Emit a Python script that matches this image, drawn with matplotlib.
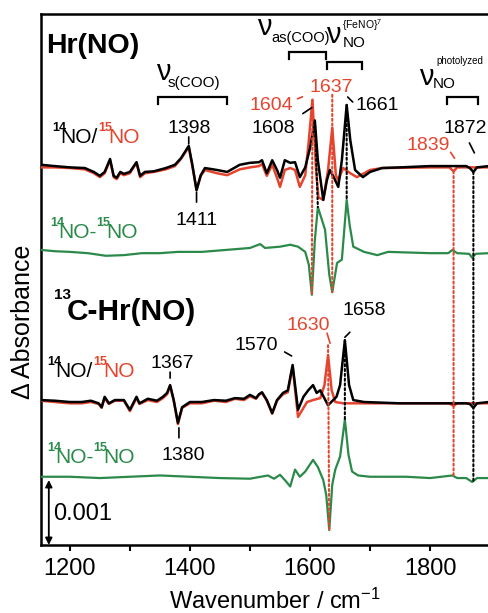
import numpy as np
import matplotlib.pyplot as plt
from matplotlib.transforms import offset_copy

plt.rcParams['font.family'] = ['Liberation Sans', 'DejaVu Sans']
plt.rcParams['mathtext.fontset'] = 'custom'
plt.rcParams['mathtext.rm'] = 'Liberation Sans'
plt.rcParams['mathtext.it'] = 'Liberation Sans:italic'
plt.rcParams['mathtext.bf'] = 'Liberation Sans:bold'

RED = '#e5452e'
GREEN = '#2b8a4a'

# ---- spectra, values in 1e-3 absorbance relative to each trace baseline ----
# Hr(NO), 14NO/15NO
hr_wn = [1152, 1175, 1200, 1225, 1240, 1250, 1258, 1267, 1273, 1278, 1284, 1290, 1300, 1311,
         1317, 1325, 1340, 1360, 1375, 1385, 1398, 1404, 1411, 1418, 1425, 1445, 1462, 1483,
         1500, 1515, 1520, 1528, 1537, 1545, 1550, 1558, 1567, 1575, 1583, 1592, 1600, 1608,
         1613, 1622, 1628, 1633, 1640, 1647, 1653, 1661, 1667, 1675, 1688, 1700, 1720, 1750,
         1800, 1860, 1866, 1872, 1878, 1898]
hr_14 = [0.02, 0.0, -0.02, -0.03, -0.09, -0.15, -0.09, 0.11, -0.15, -0.18, -0.09, -0.12, -0.09, 0.06,
         -0.15, -0.09, -0.08, -0.03, 0.02, 0.12, 0.31, 0.02, -0.37, -0.14, -0.03, -0.06, -0.09, 0.02,
         0.05, 0.06, 0.09, -0.11, 0.09, -0.06, -0.18, 0.09, 0.05, 0.06, -0.17, -0.02, 0.28, 0.70,
         0.09, -0.52, -0.22, -0.06, -0.18, -0.32, 0.09, 0.94, 0.40, -0.06, -0.17, -0.09, -0.03, -0.02,
         0.0, 0.0, -0.03, -0.09, -0.02, 0.0]

hr15_wn = [1152, 1175, 1200, 1225, 1240, 1250, 1258, 1267, 1273, 1278, 1284, 1290, 1300, 1311,
           1317, 1325, 1340, 1360, 1375, 1385, 1398, 1404, 1411, 1418, 1425, 1445, 1462, 1483,
           1500, 1515, 1520, 1528, 1537, 1545, 1550, 1558, 1567, 1575, 1583, 1592, 1598, 1604,
           1610, 1614, 1622, 1630, 1637, 1643, 1647, 1655, 1667, 1678, 1700, 1720, 1800, 1832,
           1839, 1845, 1898]
hr_15 = [-0.02, -0.02, -0.03, -0.05, -0.11, -0.17, -0.11, 0.09, -0.17, -0.20, -0.11, -0.14, -0.11, 0.05,
         -0.17, -0.11, -0.09, -0.05, 0.0, 0.11, 0.29, 0.0, -0.37, -0.15, -0.06, -0.11, -0.14, -0.05,
         -0.02, 0.0, 0.03, -0.15, 0.02, -0.18, -0.32, -0.06, -0.03, -0.06, -0.32, -0.14, 0.40, 1.02,
         -0.06, -0.48, -0.52, -0.06, 0.59, -0.14, -0.22, -0.03, -0.11, -0.17, -0.06, -0.03, -0.02, -0.02,
         -0.08, -0.02, -0.02]

hrd_wn = [1152, 1175, 1200, 1230, 1260, 1290, 1320, 1350, 1380, 1420, 1460, 1500, 1517, 1525,
          1550, 1567, 1580, 1592, 1598, 1603, 1608, 1613, 1625, 1632, 1637, 1645, 1653, 1657,
          1661, 1666, 1672, 1690, 1712, 1730, 1800, 1830, 1837, 1845, 1865, 1870, 1876, 1898]
hr_diff = [0.0, -0.02, -0.03, -0.05, -0.09, -0.08, -0.05, -0.05, -0.03, -0.03, 0.0, 0.03, 0.09, 0.03,
           0.05, 0.08, 0.05, -0.03, -0.23, -0.69, 0.15, 0.66, 0.31, -0.38, -0.65, -0.20, -0.15, 0.31,
           0.77, 0.38, 0.05, -0.03, -0.08, -0.03, -0.05, -0.05, 0.0, -0.05, -0.06, -0.12, -0.06, -0.05]

# 13C-Hr(NO), 14NO/15NO
c13_wn = [1152, 1175, 1200, 1220, 1235, 1248, 1253, 1258, 1265, 1275, 1290, 1300, 1311, 1316,
          1330, 1345, 1355, 1362, 1367, 1373, 1380, 1387, 1400, 1420, 1440, 1460, 1475, 1490,
          1500, 1510, 1515, 1520, 1528, 1537, 1545, 1555, 1563, 1571, 1580, 1589, 1597, 1605,
          1611, 1617, 1630, 1644, 1650, 1658, 1665, 1672, 1690, 1750, 1860, 1866, 1872, 1878, 1898]
c13_14 = [0.03, 0.02, 0.0, 0.0, 0.02, -0.02, -0.08, 0.08, -0.02, 0.03, 0.03, -0.12, 0.08, -0.02,
          0.05, 0.02, 0.08, 0.14, 0.26, 0.03, -0.32, -0.08, 0.0, 0.0, 0.03, 0.02, 0.06, 0.05,
          0.11, 0.06, 0.12, 0.15, 0.03, -0.17, 0.03, 0.14, 0.18, 0.57, -0.12, 0.08, 0.18, 0.26,
          0.14, 0.18, -0.05, 0.08, 0.26, 0.95, 0.26, 0.03, 0.0, -0.02, -0.02, -0.03, -0.09, -0.02, 0.0]

c1315_wn = [1152, 1175, 1200, 1220, 1235, 1248, 1253, 1258, 1265, 1275, 1290, 1300, 1311, 1316,
            1330, 1345, 1355, 1362, 1367, 1373, 1380, 1387, 1400, 1420, 1440, 1460, 1475, 1490,
            1500, 1510, 1515, 1520, 1528, 1537, 1545, 1555, 1563, 1571, 1580, 1595, 1605, 1617,
            1624, 1630, 1636, 1642, 1655, 1700, 1832, 1839, 1845, 1898]
c13_15 = [0.02, 0.0, -0.02, -0.02, 0.0, -0.03, -0.09, 0.06, -0.03, 0.02, 0.02, -0.14, 0.06, -0.03,
          0.03, 0.0, 0.06, 0.12, 0.25, 0.02, -0.34, -0.09, -0.02, -0.02, 0.02, 0.0, 0.05, 0.03,
          0.09, 0.05, 0.11, 0.14, 0.02, -0.18, 0.02, 0.12, 0.15, 0.54, -0.23, 0.0, 0.03, 0.06,
          0.26, 0.72, 0.18, 0.0, -0.02, -0.02, -0.02, -0.06, -0.02, -0.02]

c13d_wn = [1152, 1200, 1250, 1300, 1350, 1400, 1450, 1500, 1530, 1540, 1550, 1558, 1567, 1575,
           1583, 1592, 1605, 1613, 1622, 1627, 1632, 1637, 1642, 1650, 1658, 1664, 1670, 1680,
           1700, 1760, 1800, 1837, 1845, 1860, 1870, 1878, 1898]
c13_diff = [0.0, 0.0, -0.02, 0.0, 0.02, 0.0, -0.02, -0.03, 0.02, -0.03, 0.03, -0.05, -0.15, 0.11,
            0.0, 0.08, 0.26, 0.15, -0.05, -0.28, -0.82, -0.12, 0.11, 0.31, 0.88, 0.34, 0.08, 0.02,
            0.0, 0.0, -0.02, 0.02, -0.02, -0.02, -0.08, -0.02, -0.02]

# vertical offsets of the four traces (1e-3 absorbance)
offsets = {'hr': 5.83, 'hr_diff': 4.54, 'c13': 2.20, 'c13_diff': 1.05}

# x-axis ticks
major_ticks = [1200, 1400, 1600, 1800]
minor_ticks = [1300, 1500, 1700]

W, H = 489, 613
fig = plt.figure(figsize=(W / 100, H / 100), dpi=100)
ax = fig.add_axes([41 / W, 68 / H, 448 / W, 531 / H])


def trace(wn, vals, key):
    return np.asarray(wn), (np.asarray(vals) + offsets[key]) * 1e-3


curves = {
    'hr15': trace(hr15_wn, hr_15, 'hr'),
    'hr14': trace(hr_wn, hr_14, 'hr'),
    'hrd': trace(hrd_wn, hr_diff, 'hr_diff'),
    'c15': trace(c1315_wn, c13_15, 'c13'),
    'c14': trace(c13_wn, c13_14, 'c13'),
    'cd': trace(c13d_wn, c13_diff, 'c13_diff'),
}
colors = {'hr15': RED, 'hr14': 'k', 'hrd': GREEN, 'c15': RED, 'c14': 'k', 'cd': GREEN}
for k, (x, y) in curves.items():
    ax.plot(x, y, color=colors[k], lw=1.8 if colors[k] != GREEN else 1.6,
            solid_joinstyle='round', zorder=3)


def at(key, w):
    x, y = curves[key]
    return np.interp(w, x, y)


def shifted(dx, dy):
    return offset_copy(ax.transData, fig=fig, x=dx, y=dy, units='dots')


def connector(w0, key0, w1, key1, color, d0=(0, 0), d1=(0, 0), dotted=True):
    ax.annotate('', xy=(w1, at(key1, w1)), xycoords=shifted(*d1),
                xytext=(w0, at(key0, w0)), textcoords=shifted(*d0),
                arrowprops=dict(arrowstyle='-', color=color, lw=1.5 if dotted else 1.2,
                                linestyle=(0, (1, 1.3)) if dotted else '-',
                                shrinkA=0, shrinkB=0), zorder=4)


# dotted correlation lines
connector(1604, 'hr15', 1603, 'hrd', RED)
connector(1608, 'hr14', 1613, 'hrd', 'k')
connector(1637, 'hr15', 1637, 'hrd', RED, d0=(0, 33))
connector(1661, 'hr14', 1661, 'hrd', 'k')
connector(1839, 'hr15', 1839, 'cd', RED)
connector(1872, 'hr14', 1872, 'cd', 'k')
connector(1630, 'c15', 1632, 'cd', RED, d0=(0, 10))
connector(1658, 'c14', 1658, 'cd', 'k')

# peak labels: text, wavenumber, curve, color, text offset, leader start, leader end
peak_labels = [
    ('1398', 1398, 'hr14', 'k', (0, 13), (0, 2), (0, 9)),
    ('1411', 1411, 'hr14', 'k', (0, -35), (0, -2), (0, -12)),
    ('1604', 1604, 'hr15', RED, (-41, -10), (-15, 1), (-10, 3)),
    ('1608', 1608, 'hr14', 'k', (-42, -12), (-12, 7), (-3, 13)),
    ('1637', 1637, 'hr15', RED, (-1, 36), None, None),
    ('1661', 1661, 'hr14', 'k', (31, -5), (1, 8), (6, 3)),
    ('1872', 1872, 'hr14', 'k', (-8, 39), (-4, 29), (1, 19)),
    ('1839', 1839, 'hr15', RED, (-25, 21), (-3, 19), (1, 13)),
    ('1367', 1367, 'c14', 'k', (2, 17), (0, 13), (0, 7)),
    ('1380', 1380, 'c14', 'k', (5, -37), (1, -5), (1, -15)),
    ('1570', 1571, 'c14', 'k', (-36, 15), (-8, 13), (-1, 9)),
    ('1630', 1630, 'c15', RED, (-20, 25), (-1, 22), (2, 12)),
    ('1658', 1658, 'c14', 'k', (19, 25), (0, 3), (5, 8)),
]
for txt, w, key, col, toff, l0, l1 in peak_labels:
    y = at(key, w)
    ax.annotate(txt, xy=(w, y), xytext=toff, textcoords='offset pixels',
                ha='center', va='baseline', color=col, fontsize=14, zorder=5)
    if l0 is not None:
        connector(w, key, w, key, col, d0=l0, d1=l1, dotted=False)

# scale bar
ax.annotate('', xy=(1165, 0.001), xytext=(1165, 0.0),
            arrowprops=dict(arrowstyle='<|-|>', color='k', lw=1.3,
                            mutation_scale=10, shrinkA=0, shrinkB=0))

ax.set_xlim(1152, 1898)
ax.set_ylim(0, 8.17e-3)
ax.set_yticks([])
ax.set_xticks(major_ticks)
ax.set_xticks(minor_ticks, minor=True)
ax.tick_params(axis='x', which='both', direction='out', length=4.5, width=1.5,
               labelsize=17, pad=5)
for s in ['left', 'bottom', 'top']:
    ax.spines[s].set_linewidth(1.8)
ax.spines['right'].set_visible(False)


def ftext(x, y, s, **kw):
    kw.setdefault('va', 'baseline')
    fig.text(x / W, 1 - y / H, s, **kw)


# titles
ftext(46, 53, 'Hr(NO)', fontsize=20.5, fontweight='bold')
ftext(54, 299, '13', fontsize=11, fontweight='bold')
ftext(67, 320, 'C-Hr(NO)', fontsize=21.5, fontweight='bold')


def iso_label(x, y, sep, color1, color2):
    ftext(x, y - 12, '14', fontsize=9, color=color1, fontweight='bold')
    ftext(x + 8, y, 'NO' + sep, fontsize=15, color=color1)
    ftext(x + 46, y - 12, '15', fontsize=9, color=color2, fontweight='bold')
    ftext(x + 56, y, 'NO', fontsize=15, color=color2)


iso_label(52, 143, '/', 'k', RED)
iso_label(50, 238, '-', GREEN, GREEN)
iso_label(47, 377, '/', 'k', RED)
iso_label(47, 463, '-', GREEN, GREEN)

# band assignments with brackets
brackets = [(1347, 1462, 6.89), (1565, 1627, 7.58), (1628, 1687, 7.43), (1828, 1880, 6.89)]
for w0, w1, yb in brackets:
    ax.plot([w0, w0, w1, w1], [(yb - 0.11) * 1e-3, yb * 1e-3, yb * 1e-3, (yb - 0.11) * 1e-3],
            color='k', lw=1.6, solid_joinstyle='miter', clip_on=False)

ftext(156, 80, 'ν', fontsize=21)
ftext(168, 87, 's(COO)', fontsize=11)
ftext(257, 35, 'ν', fontsize=21)
ftext(271, 42, 'as(COO)', fontsize=10.5)
ftext(326, 43, 'ν', fontsize=21)
ftext(343, 47, 'NO', fontsize=11)
ftext(342, 29, '{FeNO}$^{7}$', fontsize=7.5)
ftext(419, 85, 'ν', fontsize=21)
ftext(433, 88, 'NO', fontsize=11)
ftext(436, 64, 'photolyzed', fontsize=7)

ftext(53, 520, '0.001', fontsize=17)

fig.text(23 / W, 1 - 322 / H, 'Δ Absorbance', rotation=90, ha='center', va='center', fontsize=18)
fig.text(275 / W, 1 - 589 / H, 'Wavenumber / cm$^{-1}$', ha='center', va='top', fontsize=17)

fig.savefig('out.png', dpi=100)
